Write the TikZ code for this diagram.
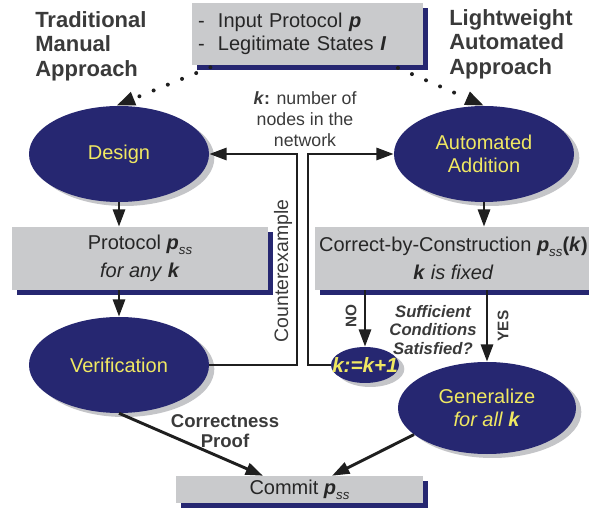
\documentclass[tikz,border=0pt]{standalone}
\usepackage{fontspec}
\setmainfont{Liberation Sans}
\usetikzlibrary{arrows.meta,shapes.geometric,shadows}
\definecolor{navy}{RGB}{38,39,113}
\definecolor{boxgray}{RGB}{201,202,204}
\definecolor{shade}{RGB}{196,197,200}
\definecolor{lbl}{RGB}{240,232,98}
\definecolor{ink}{RGB}{58,58,58}
\newcommand{\pss}{\textbf{\textit{p}}\raisebox{-0.45ex}{\fontsize{10}{10}\selectfont\textit{ss}}}
\newcommand{\kk}{\textbf{\textit{k}}}
\begin{document}
\begin{tikzpicture}[x=0.75pt,y=-0.75pt,
 stage/.style={ellipse,fill=navy,text=lbl,inner sep=0pt,align=center,
   minimum width=135pt,minimum height=72pt,font=\fontsize{15}{17}\selectfont,
   drop shadow={shadow xshift=4pt,shadow yshift=-3pt,fill=shade,opacity=1}},
 card/.style={rectangle,fill=boxgray,text=black!85,inner sep=0pt,align=center,
   font=\fontsize{15}{21}\selectfont,
   drop shadow={shadow xshift=3.75pt,shadow yshift=-3.75pt,fill=navy,opacity=1}},
 flow/.style={line width=2.2pt,draw=black!88,-{Triangle[length=13pt,width=9pt]}},
 hint/.style={line width=3pt,draw=black!88,line cap=round,dash pattern=on 0pt off 11.5pt,
   -{Triangle[length=14pt,width=10pt]}},
 title/.style={font=\bfseries\fontsize{16.5}{18.5}\selectfont,text=ink,align=left,inner sep=0pt},
 remark/.style={text=ink,align=center}]
\path[use as bounding box] (0,0) rectangle (589,509);
\clip (0,0) rectangle (589,509);

% boxes and stages
\node[card,align=left,text width=164.25pt,inner xsep=4.5pt,minimum height=46.5pt,
  font=\fontsize{15}{17.25}\selectfont] (spec) at (307.5,34)
  {-~~Input Protocol \textbf{\textit{p}}\\-~~Legitimate States \textbf{\textit{I}}};
\node[stage] (design) at (119,154) {Design};
\node[stage] (auto) at (484,154) {Automated\\Addition};
\node[card,minimum width=192pt,minimum height=47.25pt] (pss) at (140,258.5)
  {Protocol \pss\\\textit{for any} \kk};
\node[card,minimum width=207.75pt,minimum height=47.25pt] (cbc) at (453.5,258.5)
  {Correct-by-Construction \pss\textbf{(\kk)}\\\kk\ \textit{is fixed}};
\node[stage] (verif) at (119,365) {Verification};
\node[stage,minimum width=51pt,minimum height=27pt,
  font=\bfseries\itshape\fontsize{15.5}{17}\selectfont] (inc) at (365,365)
  {\makebox[0pt]{k:=k+1}};
\node[stage,minimum width=133.5pt,minimum height=69pt] (gen) at (487,408)
  {Generalize\\\textit{for all} \kk};
\node[card,minimum width=185.25pt,minimum height=20.25pt] (commit) at (299.5,489.5)
  {Commit \pss};

% texts
\node[title,anchor=west] (manual) at (35,46) {Traditional\\Manual\\Approach};
\node[title,anchor=west] (light) at (449,44) {Lightweight\\Automated\\Approach};
\node[remark,font=\fontsize{13.3}{15.75}\selectfont] (knote) at (305,119)
  {\kk\textbf{:} number of\\nodes in the\\network};
\node[remark,rotate=90,font=\fontsize{14.6}{17}\selectfont] (cex) at (283,271) {Counterexample};
\node[remark,rotate=90,font=\bfseries\fontsize{11.5}{13}\selectfont] (no) at (351,316) {NO};
\node[remark,rotate=90,font=\bfseries\fontsize{11.5}{13}\selectfont] (yes) at (503,326) {YES};
\node[remark,font=\bfseries\itshape\fontsize{12.5}{14}\selectfont] (cond) at (433,330)
  {Sufficient\\Conditions\\Satisfied?};
\node[remark,font=\bfseries\fontsize{13.9}{14.5}\selectfont] (proof) at (225,431)
  {Correctness\\Proof};

% connectors
\coordinate (upL) at (297,154);
\coordinate (upR) at (308,154);
\draw[hint] ([xshift=14pt,yshift=-1.5pt]spec.south west) -- ([xshift=-2pt]design.north);
\draw[hint] ([xshift=-19pt,yshift=-2pt]spec.south east) -- (auto.north);
\draw[flow] (design.south) -- (design.south |- pss.north);
\draw[flow] (verif.north |- pss.south) -- (verif.north);
\draw[flow] (verif.east) -| (upL) -- (design.east);
\draw[flow] (auto.south) -- (auto.south |- cbc.north);
\draw[flow] (inc.north |- cbc.south) -- (inc.north);
\draw[flow] (gen.north |- cbc.south) -- (gen.north);
\draw[flow] (inc.west) -| (upR) -- (auto.west);
\draw[flow] (verif.south) -- ([xshift=-27.4pt]commit.north);
\draw[flow] (gen.200) -- ([xshift=24.4pt]commit.north);
\end{tikzpicture}
\end{document}
